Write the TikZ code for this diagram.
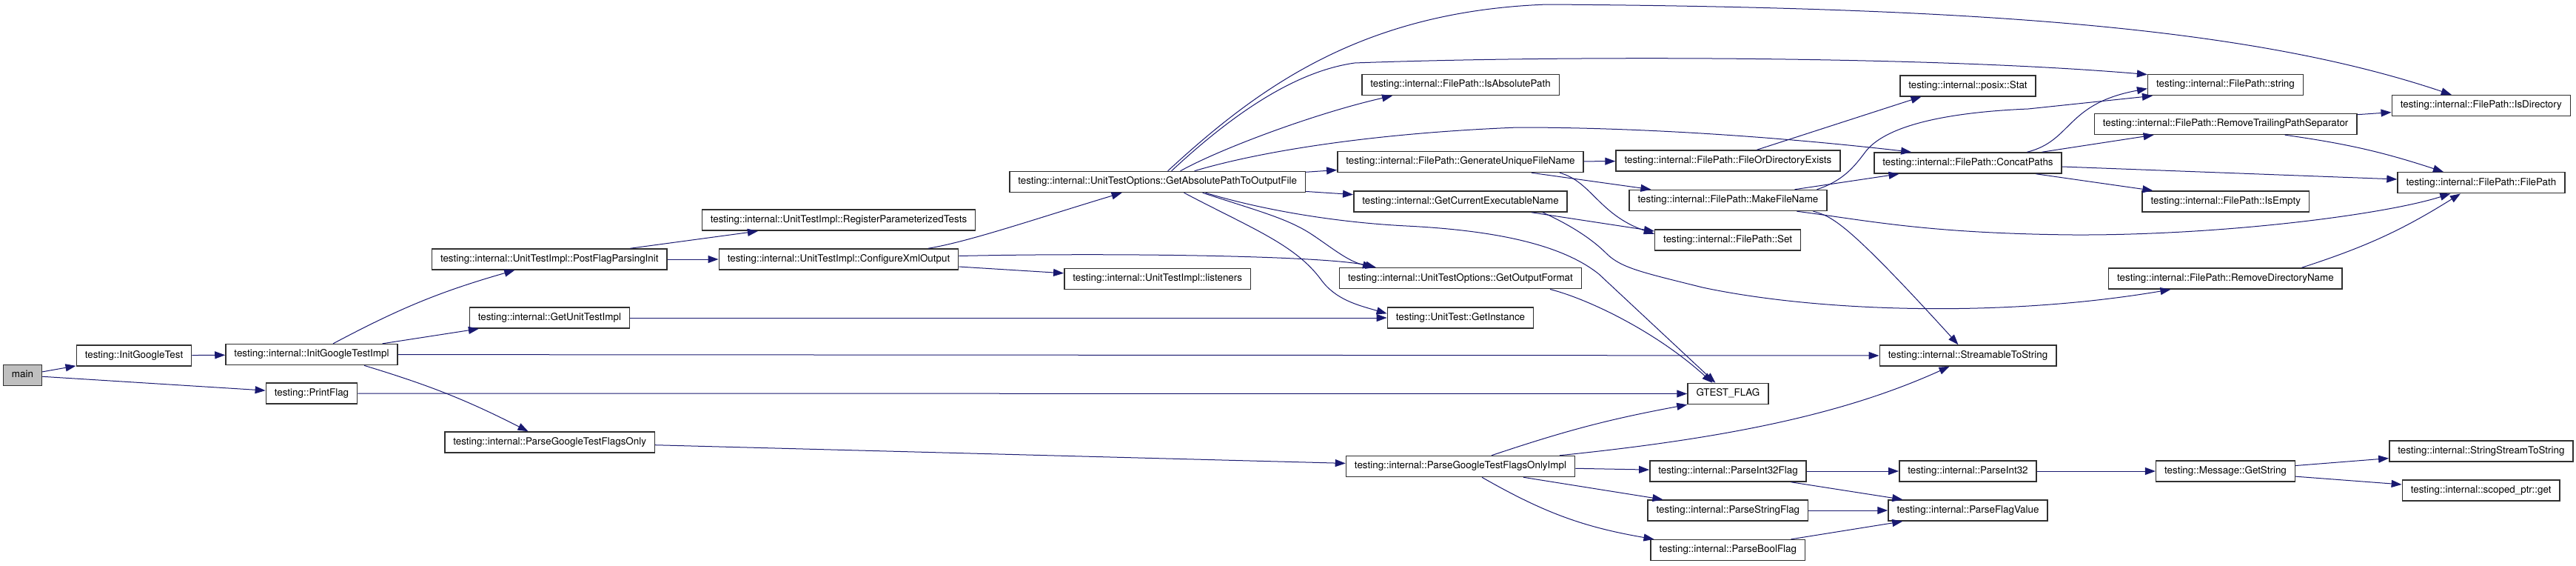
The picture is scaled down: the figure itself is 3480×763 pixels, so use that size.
\documentclass[tikz,border=0pt]{standalone}
\usepackage{fontspec}
\setmainfont{TeX Gyre Heros}
\usepackage{xcolor}
\usepackage{tikz}
\usetikzlibrary{arrows.meta}
\definecolor{callEdge}{HTML}{191970}
\definecolor{callRoot}{HTML}{BFBFBF}
\definecolor{callBorder}{HTML}{303030}

\tikzset{
  fn/.style={draw=callBorder, line width=1.5pt, fill=white, minimum height=28pt,
             inner xsep=11.5pt, inner ysep=0pt, text height=9.6pt, text depth=2.9pt,
             font=\fontsize{13.4}{15}\selectfont},
  rootfn/.style={fn, fill=callRoot},
  call/.style={draw=callEdge, line width=1pt, -{Triangle[length=14pt,width=10pt]}}
}

\begin{document}
\begin{tikzpicture}[x=1pt, y=-1pt]
    \useasboundingbox (0,0) rectangle (3480,763);

    \node[rootfn] (main)   at (30.5,506.6)  {main};
    \node[fn]     (igt)    at (181,480)     {testing::InitGoogleTest};
    \node[fn]     (igti)   at (421,478.6)   {testing::internal::InitGoogleTestImpl};
    \node[fn]     (pflag)  at (421,531)     {testing::PrintFlag};
    \node[fn]     (pfpi)   at (742.3,350)   {testing::internal::UnitTestImpl::PostFlagParsingInit};
    \node[fn]     (guti)   at (742.4,429)   {testing::internal::GetUnitTestImpl};
    \node[fn]     (pgtfo)  at (742.6,597)   {testing::internal::ParseGoogleTestFlagsOnly};
    \node[fn]     (rpt)    at (1133,297.2)  {testing::internal::UnitTestImpl::RegisterParameterizedTests};
    \node[fn]     (cxo)    at (1133,350)    {testing::internal::UnitTestImpl::ConfigureXmlOutput};
    \node[fn]     (gapof)  at (1563.6,245.5) {testing::internal::UnitTestOptions::GetAbsolutePathToOutputFile};
    \node[fn]     (lis)    at (1563.7,376.6) {testing::internal::UnitTestImpl::listeners};
    \node[fn]     (iap)    at (1973,114.6)  {testing::internal::FilePath::IsAbsolutePath};
    \node[fn]     (gufn)   at (1973,218.5)  {testing::internal::FilePath::GenerateUniqueFileName};
    \node[fn]     (gcen)   at (1973,272)    {testing::internal::GetCurrentExecutableName};
    \node[fn]     (gof)    at (1973,375.7)  {testing::internal::UnitTestOptions::GetOutputFormat};
    \node[fn]     (ginst)  at (1973,429)    {testing::UnitTest::GetInstance};
    \node[fn]     (pgtfoi) at (1973,629.5)  {testing::internal::ParseGoogleTestFlagsOnlyImpl};
    \node[fn]     (fode)   at (2334.4,217)  {testing::internal::FilePath::FileOrDirectoryExists};
    \node[fn]     (mfn)    at (2334.5,270.5) {testing::internal::FilePath::MakeFileName};
    \node[fn]     (fset)   at (2334.2,323.8) {testing::internal::FilePath::Set};
    \node[fn]     (gflag)  at (2334.4,531.5) {GTEST\_FLAG};
    \node[fn]     (pi32f)  at (2334.5,636)  {testing::internal::ParseInt32Flag};
    \node[fn]     (psf)    at (2334.4,689)  {testing::internal::ParseStringFlag};
    \node[fn]     (pbf)    at (2334.4,742.6) {testing::internal::ParseBoolFlag};
    \node[fn]     (stat)   at (2658.5,115.8) {testing::internal::posix::Stat};
    \node[fn]     (concat) at (2658.5,220)  {testing::internal::FilePath::ConcatPaths};
    \node[fn]     (s2s)    at (2658.5,480)  {testing::internal::StreamableToString};
    \node[fn]     (pi32)   at (2658.5,636)  {testing::internal::ParseInt32};
    \node[fn]     (pfv)    at (2658.5,689)  {testing::internal::ParseFlagValue};
    \node[fn]     (fstr)   at (3006.5,114.6) {testing::internal::FilePath::string};
    \node[fn]     (rtps)   at (3006.6,167.4) {testing::internal::FilePath::RemoveTrailingPathSeparator};
    \node[fn]     (isempty) at (3006.8,272) {testing::internal::FilePath::IsEmpty};
    \node[fn]     (rdn)    at (3006.4,376)  {testing::internal::FilePath::RemoveDirectoryName};
    \node[fn]     (msgstr) at (3006.5,636)  {testing::Message::GetString};
    \node[fn]     (isdir)  at (3351.8,142.6) {testing::internal::FilePath::IsDirectory};
    \node[fn]     (fpath)  at (3351.9,246.7) {testing::internal::FilePath::FilePath};
    \node[fn]     (ss2s)   at (3351.9,608.8) {testing::internal::StringStreamToString};
    \node[fn]     (sget)   at (3351.7,662)  {testing::internal::scoped\_ptr::get};

    \draw[call] (main) -- (igt);
    \draw[call] (main) -- (pflag);
    \draw[call] (igt) -- (igti);
    \draw[call] ([xshift=29pt]igti.north) to[bend left=6] ([xshift=-47pt]pfpi.south);
    \draw[call] (igti) -- (guti);
    \draw[call] (igti.east) -- (s2s.west);
    \draw[call] ([xshift=71pt]igti.south) to[bend left=5] ([xshift=-29pt]pgtfo.north);
    \draw[call] (pflag) -- (gflag);
    \draw[call] (pfpi) -- (rpt);
    \draw[call] (pfpi) -- (cxo);
    \draw[call] (guti) -- (ginst);
    \draw[call] (pgtfo) -- (pgtfoi);
    \draw[call] ([xshift=121pt]cxo.north) .. controls (1310,326) and (1400,295) .. ([xshift=-48pt]gapof.south);
    \draw[call] (cxo) -- (lis);
    \draw[call] ([yshift=4.5pt]cxo.east) .. controls (1500,341) and (1790,345) .. ([xshift=50pt]gof.north west);

    \draw[call] ([xshift=14pt]gapof.north) .. controls (1700,118) and (1840,15) .. (2090,6)
                .. controls (2700,10) and (3050,40) .. ([xshift=-40pt]isdir.north);
    \draw[call] ([xshift=19pt]gapof.north) .. controls (1680,140) and (1760,95) .. (1830,85)
                .. controls (2100,75) and (2600,75) .. ([yshift=14pt]fstr.west);
    \draw[call] ([xshift=31pt]gapof.north) .. controls (1650,200) and (1780,152) .. ([xshift=42pt]iap.south west);
    \draw[call] ([xshift=50pt]gapof.north) .. controls (1700,205) and (1850,180) .. (2050,172)
                .. controls (2250,172) and (2450,190) .. ([xshift=51pt]concat.north west);
    \draw[call] (gapof) -- (gufn);
    \draw[call] (gapof) -- (gcen);
    \draw[call] ([xshift=65pt]gapof.south) .. controls (1700,282) and (1800,300) .. (1900,305)
                .. controls (2020,311) and (2110,330) .. (2160,370) -- ([xshift=-17pt]gflag.north);
    \draw[call] ([xshift=61pt]gapof.south) .. controls (1700,285) and (1740,295) .. (1773,317)
                .. controls (1800,335) and (1820,352) .. ([xshift=46pt]gof.north west);
    \draw[call] ([xshift=36pt]gapof.south) .. controls (1690,308) and (1750,330) .. (1785,378)
                .. controls (1805,405) and (1835,412) .. ([yshift=5.7pt]ginst.west);

    \draw[call] (gufn) -- (fode);
    \draw[call] ([xshift=96pt]gufn.south) -- ([xshift=30pt]mfn.north west);
    \draw[call] ([xshift=134pt]gufn.south) .. controls (2150,245) and (2160,290) .. ([yshift=8pt]fset.west);
    \draw[call] ([xshift=96pt]gcen.south) -- ([yshift=-3pt]fset.north west);
    \draw[call] ([xshift=111pt]gcen.south) .. controls (2120,303) and (2150,322) .. (2170,342)
                .. controls (2190,362) and (2220,368) .. (2300,388)
                .. controls (2450,420) and (2700,430) .. ([xshift=-74pt]rdn.south);
    \draw[call] ([xshift=121pt]gof.south) .. controls (2150,405) and (2240,450) .. ([xshift=-21pt]gflag.north);

    \draw[call] ([xshift=39pt]fode.north) -- ([xshift=-63pt]stat.south);
    \draw[call] ([xshift=90pt]mfn.north) -- ([xshift=-93pt]concat.south);
    \draw[call] ([xshift=120pt]mfn.north) .. controls (2490,244) and (2505,225) .. (2520,205)
                .. controls (2545,172) and (2620,152) .. (2740,147) -- ([xshift=7pt]fstr.south west);
    \draw[call] ([xshift=115pt]mfn.south) .. controls (2475,292) and (2495,300) .. ([xshift=-13pt]s2s.north);
    \draw[call] ([xshift=93pt]mfn.south) .. controls (2520,297) and (2600,315) .. (2800,317)
                .. controls (3000,318) and (3220,290) .. ([xshift=72pt]fpath.south west);

    \draw[call] ([xshift=80pt]concat.north) .. controls (2800,190) and (2790,140) .. ([yshift=-5pt]fstr.west);
    \draw[call] ([xshift=100pt]concat.north) -- ([xshift=-97pt]rtps.south);
    \draw[call] ([yshift=-5pt]concat.east) -- ([yshift=4.7pt]fpath.west);
    \draw[call] ([xshift=92pt]concat.south) -- ([xshift=15pt]isempty.north west);
    \draw[call] ([yshift=12.7pt]rtps.east) -- ([yshift=-9pt]isdir.west);
    \draw[call] ([xshift=80pt]rtps.south) to[bend left=5] ([xshift=-51pt]fpath.north);
    \draw[call] ([xshift=103pt]rdn.north) to[bend right=7] ([xshift=-28pt]fpath.south);

    \draw[call] ([xshift=42pt]pgtfoi.north) to[bend left=4] (gflag.south west);
    \draw[call] ([xshift=134pt]pgtfoi.north) .. controls (2350,590) and (2500,555) .. ([xshift=-25pt]s2s.south);
    \draw[call] (pgtfoi) -- (pi32f);
    \draw[call] ([xshift=85pt]pgtfoi.south) -- ([xshift=21pt]psf.north west);
    \draw[call] ([xshift=29pt]pgtfoi.south) to[bend right=10] ([xshift=5pt]pbf.north west);
    \draw[call] (pi32f) -- (pi32);
    \draw[call] ([xshift=85pt]pi32f.south) -- ([xshift=20pt]pfv.north west);
    \draw[call] (psf) -- (pfv);
    \draw[call] ([xshift=85pt]pbf.north) -- ([xshift=20pt]pfv.south west);
    \draw[call] (pi32) -- (msgstr);
    \draw[call] (msgstr) -- (ss2s);
    \draw[call] (msgstr) -- (sget);
\end{tikzpicture}
\end{document}
